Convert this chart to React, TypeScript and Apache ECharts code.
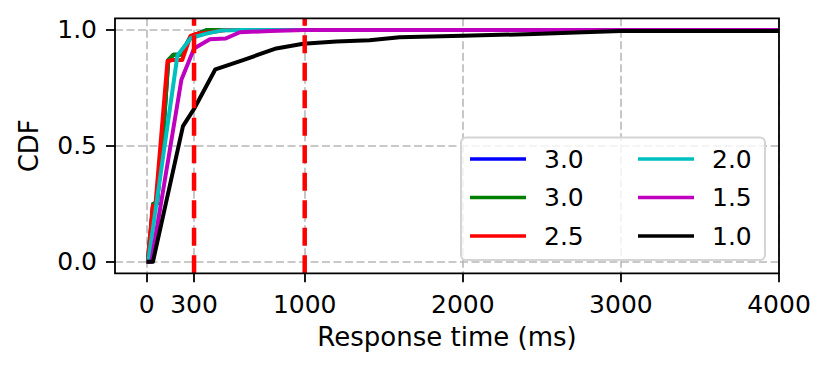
import React, { useEffect, useRef } from "react";
import * as echarts from "echarts";

// ---- data ----
const xTicks = [0, 300, 1000, 2000, 3000, 4000];
const yTicks = [0, 0.5, 1.0];
const thresholds = [300, 1000];
const seriesIds = ["s0", "s1", "s2", "s3", "s4", "s5"];
const seriesLabels = ["3.0", "3.0", "2.5", "2.0", "1.5", "1.0"];
const seriesColors = ["#0000ff", "#008000", "#ff0000", "#00bfbf", "#bf00bf", "#000000"];

const blue30: [number, number][] = [
  [0, 0], [8, 0], [42, 0.25], [65, 0.25], [100, 0.5], [137, 0.87], [170, 0.893],
  [215, 0.893], [278, 0.97], [310, 0.98], [384, 1.0], [4000, 1.0],
];
const green30: [number, number][] = [
  [0, 0], [8, 0], [42, 0.25], [65, 0.25], [100, 0.5], [137, 0.87], [170, 0.893],
  [215, 0.893], [278, 0.97], [310, 0.98], [384, 1.0], [4000, 1.0],
];
const red25: [number, number][] = [
  [0, 0], [8, 0], [38, 0.24], [55, 0.24], [132, 0.865], [162, 0.87], [225, 0.87],
  [278, 0.974], [310, 0.982], [404, 0.99], [510, 1.0], [4000, 1.0],
];
const cyan20: [number, number][] = [
  [0, 0], [10, 0], [195, 0.89], [280, 0.965], [385, 0.985], [470, 0.997], [600, 1.0], [4000, 1.0],
];
const magenta15: [number, number][] = [
  [0, 0], [30, 0], [220, 0.785], [300, 0.92], [400, 0.96], [500, 0.963], [590, 0.99],
  [780, 0.995], [1000, 1.0], [4000, 1.0],
];
const black10: [number, number][] = [
  [0, 0], [40, 0], [230, 0.585], [305, 0.665], [435, 0.83], [610, 0.87], [820, 0.92],
  [990, 0.94], [1200, 0.95], [1410, 0.955], [1600, 0.968], [2000, 0.975], [2450, 0.982],
  [2760, 0.99], [3000, 0.995], [4000, 0.995],
];
const allSeries = [blue30, green30, red25, cyan20, magenta15, black10];

const FONT = "DejaVu Sans";

export default function App() {
  const ref = useRef<HTMLDivElement>(null);
  useEffect(() => {
    if (!ref.current) return;
    const chart = echarts.init(ref.current, undefined, { renderer: "svg" });
    const labelMap: Record<string, string> = {};
    seriesIds.forEach((id, i) => (labelMap[id] = seriesLabels[i]));

    const lineSeries: any[] = allSeries.map((d, i) => ({
      type: "line",
      name: seriesIds[i],
      data: d,
      showSymbol: false,
      symbol: "none",
      color: seriesColors[i],
      lineStyle: { color: seriesColors[i], width: 4, join: "round" },
      z: 2 + i * 0.01,
    }));
    const vSeries: any[] = thresholds.map((t) => ({
      type: "line",
      name: "thr" + t,
      data: [[t, -0.05], [t, 1.05]],
      showSymbol: false,
      symbol: "none",
      lineStyle: { color: "#ff0000", width: 4.5, type: [18, 9.5], cap: "butt" },
      z: 3,
    }));

    const legendCommon = {
      orient: "vertical",
      padding: 0,
      itemWidth: 56,
      itemHeight: 3.5,
      itemGap: 13.5,
      icon: "rect",
      selectedMode: false,
      z: 5,
      formatter: (n: string) => labelMap[n] ?? n,
      textStyle: { fontFamily: FONT, fontSize: 25, color: "#000", padding: [0, 0, 0, 13] },
    };

    const gridL = 115, gridT = 18.3, gridW = 664, gridH = 255;

    chart.setOption({
      animation: false,
      grid: {
        left: gridL,
        top: gridT,
        width: gridW,
        height: gridH,
        show: false,
      },
      xAxis: {
        type: "value",
        min: -200,
        max: 4000,
        name: "Response time (ms)",
        nameLocation: "middle",
        nameGap: 51,
        nameTextStyle: { fontFamily: FONT, fontSize: 26, color: "#000" },
        axisLine: { show: false, onZero: false },
        axisTick: { show: true, length: 9, lineStyle: { color: "#000", width: 1.8 }, customValues: xTicks },
        axisLabel: { customValues: xTicks, fontFamily: FONT, fontSize: 25, color: "#000", margin: 19, formatter: (v: number) => String(v) },
        splitLine: { show: true, lineStyle: { color: "#b8b8b8", width: 1.6, type: [8, 3.5] } },
      },
      yAxis: {
        type: "value",
        min: -0.05,
        max: 1.05,
        name: "CDF",
        nameLocation: "middle",
        nameGap: 73,
        nameTextStyle: { fontFamily: FONT, fontSize: 26, color: "#000" },
        axisLine: { show: false, onZero: false },
        axisTick: { show: true, length: 9, lineStyle: { color: "#000", width: 1.8 }, customValues: yTicks },
        axisLabel: { customValues: yTicks, fontFamily: FONT, fontSize: 25, color: "#000", margin: 18, formatter: (v: number) => v.toFixed(1) },
        splitLine: { show: true, lineStyle: { color: "#b8b8b8", width: 1.6, type: [8, 3.5] } },
      },
      legend: [
        { ...legendCommon, left: 470, top: 146.5, data: seriesIds.slice(0, 3) },
        { ...legendCommon, left: 638, top: 146.5, data: seriesIds.slice(3, 6) },
      ],
      graphic: [
        {
          type: "rect",
          z: 3.5,
          silent: true,
          shape: { x: gridL, y: gridT, width: gridW, height: gridH },
          style: { fill: "none", stroke: "#000", lineWidth: 1.8 },
        },
        {
          type: "rect",
          z: 4,
          silent: true,
          shape: { x: 461, y: 137.5, width: 304, height: 122.5, r: 5 },
          style: { fill: "rgba(255,255,255,0.8)", stroke: "#d4d4d4", lineWidth: 2 },
        },
      ],
      series: [...lineSeries, ...vSeries],
    });
    return () => chart.dispose();
  }, []);
  return (
    <div
      ref={ref}
      style={{ position: "absolute", left: 0, top: 0, width: 831, height: 373, background: "#fff" }}
    />
  );
}
